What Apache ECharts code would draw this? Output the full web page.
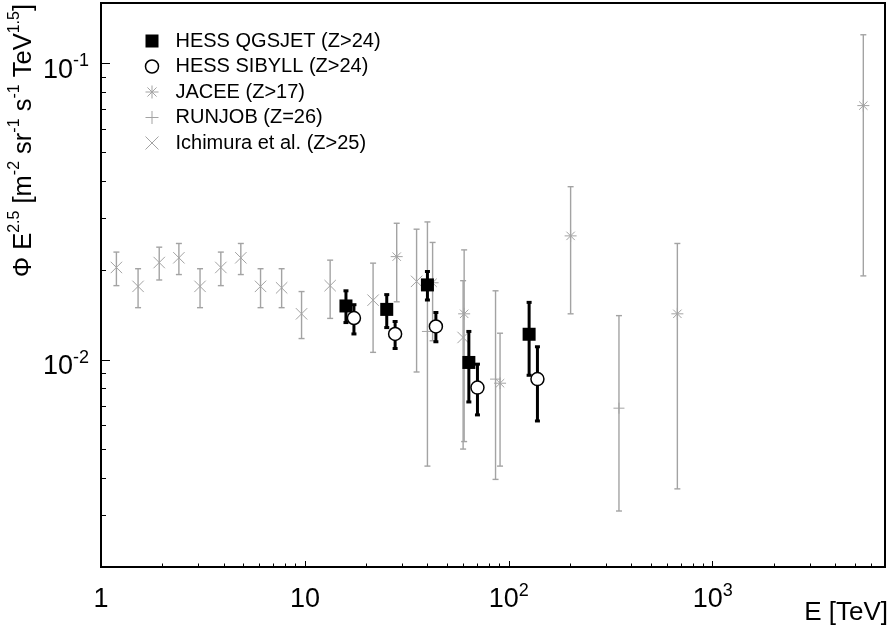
<!DOCTYPE html>
<html>
<head>
<meta charset="utf-8">
<title>Iron flux</title>
<script src="https://cdn.jsdelivr.net/npm/echarts@6/dist/echarts.min.js"></script>
<style>
  html, body { margin: 0; padding: 0; background: #fff; }
  #chart { width: 890px; height: 630px; }
</style>
</head>
<body>
<div id="chart"></div>
<script>
// HESS QGSJET (Z>24)
const qgsjetE = [15.9, 25.2, 39.9, 63.7, 125.8]
const qgsjetFlux = [0.0152, 0.0148, 0.0179, 0.0098, 0.0122]
const qgsjetLow = [0.01336, 0.01285, 0.01592, 0.00721, 0.00887]
const qgsjetHigh = [0.0171, 0.0166, 0.01987, 0.01247, 0.01563]

// HESS SIBYLL (Z>24)
const sibyllE = [17.4, 27.7, 43.9, 70.2, 138.2]
const sibyllFlux = [0.01384, 0.01223, 0.01296, 0.00806, 0.00861]
const sibyllLow = [0.01223, 0.01092, 0.01151, 0.00652, 0.00622]
const sibyllHigh = [0.01535, 0.01347, 0.01445, 0.00967, 0.01107]

// JACEE (Z>17)
const jaceeE = [28.2, 42.3, 60.4, 90.6, 201, 671, 5480]
const jaceeFlux = [0.0223, 0.0182, 0.0143, 0.00834, 0.0262, 0.0143, 0.0721]
const jaceeLow = [0.0157, 0.0116, 0.0053, 0.00438, 0.0143, 0.00367, 0.0192]
const jaceeHigh = [0.0289, 0.0249, 0.0235, 0.0123, 0.0384, 0.0247, 0.125]

// RUNJOB (Z=26)
const runjobE = [39.9, 86.1, 347]
const runjobFlux = [0.01247, 0.00861, 0.00687]
const runjobLow = [0.00438, 0.00395, 0.00309]
const runjobHigh = [0.0292, 0.0171, 0.0141]

// Ichimura et al. (Z>25)
const ichimuraE = [1.19, 1.52, 1.93, 2.41, 3.06, 3.87, 4.85, 6.06, 7.69, 9.63, 13.3, 21.6, 35.3, 59.7]
const ichimuraFlux = [0.0205, 0.0177, 0.0213, 0.0221, 0.0177, 0.0205, 0.0221, 0.0177, 0.0175, 0.0143, 0.0178, 0.0159, 0.0184, 0.0119]
const ichimuraLow = [0.0178, 0.0150, 0.0186, 0.0194, 0.0150, 0.0178, 0.0194, 0.0150, 0.0150, 0.0118, 0.0138, 0.0106, 0.0091, 0.0050]
const ichimuraHigh = [0.0231, 0.0203, 0.0240, 0.0247, 0.0203, 0.0231, 0.0247, 0.0203, 0.0203, 0.0170, 0.0217, 0.0212, 0.0276, 0.0185]

const xMin = 1
const xMax = 7000
const yMin = 0.002
const yMax = 0.16
const xTickValues = [1, 10, 100, 1000]
const xTickLabels = ['1', '10', '10{s|2}', '10{s|3}']
const yTickValues = [0.01, 0.1]
const yTickLabels = ['10{s|-2}', '10{s|-1}']

const FONT = '"Liberation Sans", Arial, Helvetica, sans-serif'
const GRAY = '#a3a3a3'

// minor ticks 2..9 of every decade inside the range
const minorTicks = (lo, hi) => {
  const out = []
  for (let d = Math.floor(Math.log10(lo)); d <= Math.ceil(Math.log10(hi)); d++) {
    for (let k = 2; k <= 9; k++) {
      const v = k * Math.pow(10, d)
      if (v > lo && v < hi) out.push(v)
    }
  }
  return out
}

const pickLabel = (values, labels) => (v) => {
  const i = values.findIndex(t => Math.abs(Math.log10(v) - Math.log10(t)) < 1e-6)
  return i < 0 ? '' : labels[i]
}

const supRich = {
  s: {fontSize: 18, lineHeight: 18, verticalAlign: 'top', fontFamily: FONT, color: '#000'}
}

const markerShapes = (marker, p, size, color) => {
  const line = (x1, y1, x2, y2) => ({
    type: 'line', shape: {x1, y1, x2, y2}, style: {stroke: color, lineWidth: 1}
  })
  const [x, y] = p
  const d = size * 0.7
  if (marker === 'square') {
    return [{type: 'rect', shape: {x: x - size, y: y - size, width: 2 * size, height: 2 * size}, style: {fill: '#000'}}]
  }
  if (marker === 'circle') {
    return [{type: 'circle', shape: {cx: x, cy: y, r: size}, style: {fill: '#fff', stroke: '#000', lineWidth: 1.5}}]
  }
  if (marker === 'plus') {
    return [line(x - size, y, x + size, y), line(x, y - size, x, y + size)]
  }
  if (marker === 'star') {
    return [line(x - size, y, x + size, y), line(x, y - size, x, y + size),
      line(x - d, y - d, x + d, y + d), line(x - d, y + d, x + d, y - d)]
  }
  return [line(x - size, y - size, x + size, y + size), line(x - size, y + size, x + size, y - size)]
}

const makeSeries = (name, xs, ys, los, his, opt) => ({
  name: name,
  type: 'custom',
  coordinateSystem: 'cartesian2d',
  encode: {x: 0, y: 1},
  itemStyle: {color: opt.color},
  data: xs.map((x, i) => [x, ys[i], los[i], his[i]]),
  renderItem: (params, api) => {
    const p = api.coord([api.value(0), api.value(1)])
    const lo = api.coord([api.value(0), api.value(2)])
    const hi = api.coord([api.value(0), api.value(3)])
    const st = {stroke: opt.color, lineWidth: opt.barWidth}
    const c = opt.cap
    const children = [
      {type: 'line', shape: {x1: p[0], y1: lo[1], x2: p[0], y2: hi[1]}, style: st},
      {type: 'line', shape: {x1: p[0] - c, y1: lo[1], x2: p[0] + c, y2: lo[1]}, style: st},
      {type: 'line', shape: {x1: p[0] - c, y1: hi[1], x2: p[0] + c, y2: hi[1]}, style: st}
    ]
    return {type: 'group', children: children.concat(markerShapes(opt.marker, p, opt.size, opt.color))}
  }
})

const chart = echarts.init(document.getElementById('chart'))

const option = {
  animation: false,
  backgroundColor: '#fff',
  textStyle: {fontFamily: FONT},
  grid: {
    left: 101, right: 5, top: 3, bottom: 63,
    show: true, borderColor: '#000', borderWidth: 2,
    outerBoundsMode: 'none'
  },
  legend: {
    orient: 'vertical',
    left: 138,
    top: 26,
    itemWidth: 13,
    itemHeight: 13,
    itemGap: 5.5,
    selectedMode: false,
    textStyle: {fontSize: 20, color: '#000', fontFamily: FONT, padding: [0, 0, 0, 12]},
    data: [
      {name: 'HESS QGSJET (Z>24)', icon: 'rect', itemStyle: {color: '#000'}},
      {name: 'HESS SIBYLL (Z>24)', icon: 'circle', itemStyle: {color: '#fff', borderColor: '#000', borderWidth: 1.5}},
      {name: 'JACEE (Z>17)', icon: 'path://M5,0L5,10M0,5L10,5M1.5,1.5L8.5,8.5M8.5,1.5L1.5,8.5', itemStyle: {color: 'none', borderColor: GRAY, borderWidth: 1}},
      {name: 'RUNJOB (Z=26)', icon: 'path://M5,0L5,10M0,5L10,5', itemStyle: {color: 'none', borderColor: GRAY, borderWidth: 1}},
      {name: 'Ichimura et al. (Z>25)', icon: 'path://M0,0L10,10M10,0L0,10', itemStyle: {color: 'none', borderColor: GRAY, borderWidth: 1}}
    ]
  },
  xAxis: [
    {
      type: 'log', logBase: 10, min: xMin, max: xMax, position: 'bottom',
      axisLine: {show: false},
      splitLine: {show: false},
      axisTick: {inside: true, length: 6, customValues: xTickValues, lineStyle: {color: '#000', width: 1}},
      axisLabel: {
        customValues: xTickValues,
        formatter: pickLabel(xTickValues, xTickLabels),
        fontSize: 27, lineHeight: 36, margin: 15, color: '#000', fontFamily: FONT,
        showMinLabel: true, showMaxLabel: true,
        rich: supRich
      }
    },
    {
      type: 'log', logBase: 10, min: xMin, max: xMax, position: 'bottom',
      axisLine: {show: false},
      splitLine: {show: false},
      axisTick: {inside: true, length: 3.5, customValues: minorTicks(xMin, xMax), lineStyle: {color: '#000', width: 1}},
      axisLabel: {show: false}
    }
  ],
  yAxis: [
    {
      type: 'log', logBase: 10, min: yMin, max: yMax, position: 'left',
      axisLine: {show: false},
      splitLine: {show: false},
      axisTick: {inside: true, length: 9, customValues: yTickValues, lineStyle: {color: '#000', width: 1}},
      axisLabel: {
        customValues: yTickValues,
        formatter: pickLabel(yTickValues, yTickLabels),
        fontSize: 27, lineHeight: 36, margin: 12, color: '#000', fontFamily: FONT,
        padding: [14, 0, 0, 0],
        rich: supRich
      }
    },
    {
      type: 'log', logBase: 10, min: yMin, max: yMax, position: 'left',
      axisLine: {show: false},
      splitLine: {show: false},
      axisTick: {inside: true, length: 5, customValues: minorTicks(yMin, yMax), lineStyle: {color: '#000', width: 1}},
      axisLabel: {show: false}
    }
  ],
  graphic: [
    {
      type: 'text',
      x: 41, y: 4,
      rotation: Math.PI / 2,
      style: {
        text: 'Φ E{s|2.5} [m{s|-2} sr{s|-1} s{s|-1} TeV{s|1.5}]',
        fontSize: 25.5, lineHeight: 34, fontFamily: FONT, fill: '#000',
        align: 'right', verticalAlign: 'bottom',
        rich: {s: {fontSize: 16, lineHeight: 16, verticalAlign: 'top', fontFamily: FONT, fill: '#000'}}
      }
    },
    {
      type: 'text',
      x: 888, y: 613,
      style: {
        text: 'E [TeV]', fontSize: 26, fontFamily: FONT, fill: '#000',
        align: 'right', verticalAlign: 'middle'
      }
    }
  ],
  series: [
    makeSeries('Ichimura et al. (Z>25)', ichimuraE, ichimuraFlux, ichimuraLow, ichimuraHigh,
      {color: GRAY, barWidth: 1.4, cap: 3, marker: 'cross', size: 5.7}),
    makeSeries('RUNJOB (Z=26)', runjobE, runjobFlux, runjobLow, runjobHigh,
      {color: GRAY, barWidth: 1.4, cap: 3, marker: 'plus', size: 5.5}),
    makeSeries('JACEE (Z>17)', jaceeE, jaceeFlux, jaceeLow, jaceeHigh,
      {color: GRAY, barWidth: 1.4, cap: 3, marker: 'star', size: 6}),
    makeSeries('HESS QGSJET (Z>24)', qgsjetE, qgsjetFlux, qgsjetLow, qgsjetHigh,
      {color: '#000', barWidth: 3, cap: 2.5, marker: 'square', size: 6.5}),
    makeSeries('HESS SIBYLL (Z>24)', sibyllE, sibyllFlux, sibyllLow, sibyllHigh,
      {color: '#000', barWidth: 3, cap: 2.5, marker: 'circle', size: 6.5})
  ]
}

chart.setOption(option)
</script>
</body>
</html>
